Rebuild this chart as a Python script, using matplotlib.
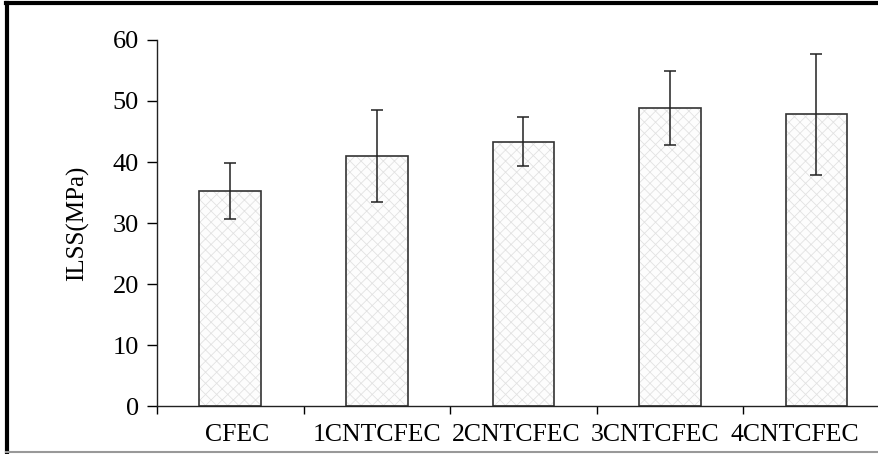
import matplotlib.pyplot as plt
from matplotlib.lines import Line2D
import numpy as np

plt.rcParams['font.family'] = ['Liberation Serif', 'DejaVu Serif']
plt.rcParams['hatch.linewidth'] = 0.6

# ILSS values
samples = ['CFEC', '1CNTCFEC', '2CNTCFEC', '3CNTCFEC', '4CNTCFEC']
ilss = [35.3, 41.0, 43.3, 48.8, 47.8]
err_low = [30.6, 33.5, 39.3, 42.8, 37.8]
err_high = [39.8, 48.6, 47.3, 54.9, 57.7]

x = np.arange(len(samples))
yerr = [np.array(ilss) - np.array(err_low), np.array(err_high) - np.array(ilss)]

fig = plt.figure(figsize=(8.79, 4.54), dpi=100)
ax = fig.add_axes([0.1786, 0.1057, 0.8335, 0.8062])

# hatched fill first, then the outline on top
ax.bar(x, ilss, width=0.42, color='#fdfdfd', edgecolor='#e2e2e2',
       hatch='xxx', linewidth=0)
ax.bar(x, ilss, width=0.42, fill=False, edgecolor='#333333', linewidth=1.2)
ax.errorbar(x, ilss, yerr=yerr, fmt='none', ecolor='#222222',
            elinewidth=1.1, capsize=4, capthick=1.1)

ax.set_xlim(-0.5, 4.5)
ax.set_ylim(0, 60)
ax.set_yticks(range(0, 61, 10))
ax.set_xticks(np.arange(-0.5, 4.5, 1))
ax.set_xticklabels([])
# category labels sit slightly tighter than the bars in the original
ax.set_xticks(x * 0.95 + 0.05, minor=True)
ax.set_xticklabels(samples, minor=True)
ax.tick_params(axis='x', which='minor', length=0, pad=13, labelsize=18.5)
ax.tick_params(axis='x', which='major', direction='out', length=6, width=1)
ax.tick_params(axis='y', direction='out', length=7, width=1, labelsize=19, pad=6)
ax.set_ylabel('ILSS(MPa)', fontsize=18, labelpad=17)

for side in ['top', 'right']:
    ax.spines[side].set_visible(False)
for side in ['left', 'bottom']:
    ax.spines[side].set_linewidth(1)
    ax.spines[side].set_color('#222222')

# frame around the picture
fig.add_artist(Line2D([0.007, 1], [0.993, 0.993], color='black', lw=3))
fig.add_artist(Line2D([0.008, 0.008], [0.004, 0.993], color='black', lw=3))
fig.add_artist(Line2D([0.007, 1], [0.004, 0.004], color='#999999', lw=1.5))

fig.savefig('out.png', dpi=100)
